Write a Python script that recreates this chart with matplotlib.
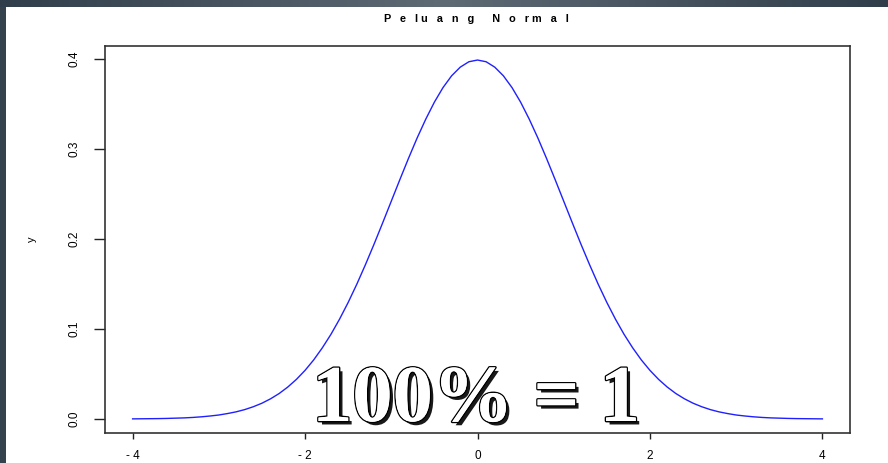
import numpy as np
import matplotlib.pyplot as plt
import matplotlib.patheffects as pe
from matplotlib.colors import LinearSegmentedColormap

# points, step 0.1 from -4 to 4 (curve is symmetric)
x_vals = [round(-4 + 0.1 * i, 1) for i in range(81)]
y_half = [0.0001, 0.0002, 0.0003, 0.0004, 0.0006, 0.0009, 0.0012, 0.0017,
          0.0024, 0.0033, 0.0044, 0.0060, 0.0079, 0.0104, 0.0136, 0.0175,
          0.0224, 0.0283, 0.0355, 0.0440, 0.0540, 0.0656, 0.0790, 0.0940,
          0.1109, 0.1295, 0.1497, 0.1714, 0.1942, 0.2179, 0.2420, 0.2661,
          0.2897, 0.3123, 0.3332, 0.3521, 0.3683, 0.3814, 0.3910, 0.3970]
y_vals = y_half + [0.3989] + y_half[::-1]

x_ticks = [-4, -2, 0, 2, 4]
x_labels = ["- 4", "- 2", "0", "2", "4"]
y_ticks = [0.0, 0.1, 0.2, 0.3, 0.4]
y_labels = ["0.0", "0.1", "0.2", "0.3", "0.4"]

W, H = 888, 463
fig = plt.figure(figsize=(W / 100, H / 100), dpi=100, facecolor="white")

# dark frame of the screenshot
frame = LinearSegmentedColormap.from_list("frame", ["#303e4b", "#5e6a74", "#303e4b"])
top = fig.add_axes([0, 1 - 7 / H, 1, 7 / H])
top.imshow(np.linspace(0, 1, 256)[None, :], aspect="auto", cmap=frame)
top.axis("off")
left = fig.add_axes([0, 0, 6 / W, 1 - 7 / H])
left.set_facecolor("#34424e")
left.set_xticks([])
left.set_yticks([])
for s in left.spines.values():
    s.set_visible(False)

ax = fig.add_axes([105 / W, 30 / H, 745 / W, 387 / H])
ax.plot(x_vals, y_vals, color="#2020ff", lw=1.0)
ax.set_xlim(-4.32, 4.32)
ax.set_ylim(-0.0156, 0.4145)

ax.set_xticks(x_ticks)
ax.set_xticklabels(x_labels, fontsize=8.5, family="Liberation Sans")
ax.set_yticks(y_ticks)
ax.set_yticklabels(y_labels, fontsize=8.5, family="Liberation Sans", rotation=90, va="center")
ax.tick_params(width=1, color="#222222")
ax.tick_params(axis="x", length=4.5, pad=8)
ax.tick_params(axis="y", length=8, pad=10)
for s in ax.spines.values():
    s.set_color("#333333")
    s.set_linewidth(1.2)

ax.set_ylabel("y", fontsize=8, family="Liberation Sans", labelpad=22)
fig.text(476 / W, 1 - 19 / H, "P   e   l u   a   n   g      N   o   r m   a   l",
         ha="center", va="center", fontsize=7.8, fontweight="bold", family="Liberation Sans")

fig.text(476 / W, 1 - 421 / H, "100% = 1", ha="center", va="baseline",
         fontsize=58, fontweight="bold", family="Liberation Serif", color="white",
         path_effects=[pe.SimplePatchShadow(offset=(2.5, -2.5), shadow_rgbFace="black", alpha=0.9),
                       pe.withStroke(linewidth=2.0, foreground="black"),
                       pe.Normal()])

fig.savefig("out.png", dpi=100)
